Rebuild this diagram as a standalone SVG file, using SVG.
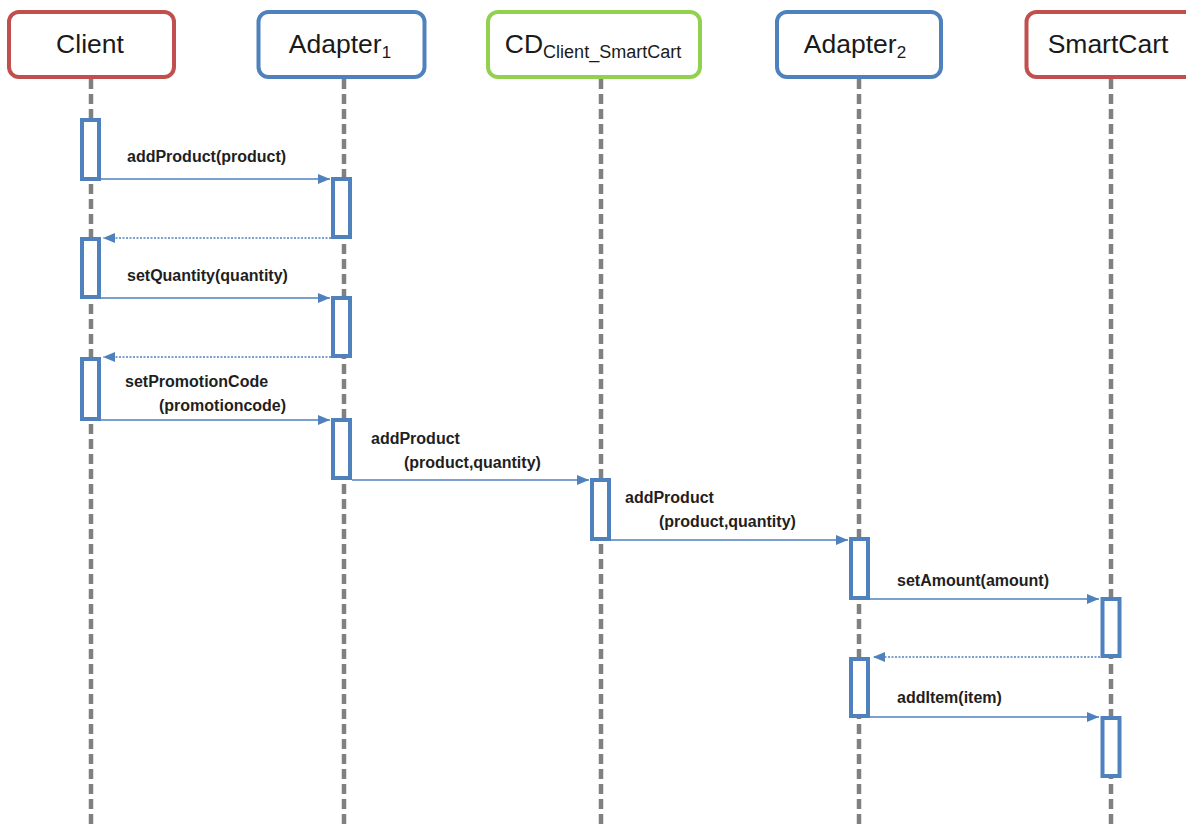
<svg xmlns="http://www.w3.org/2000/svg" width="1186" height="827" viewBox="0 0 1186 827">
<defs>
<style>
.hdr{fill:#fff;stroke-width:4}
.red{stroke:#c0504d}
.blue{stroke:#4f81bd}
.green{stroke:#92d050}
.life{stroke:#808080;stroke-width:4.5;stroke-dasharray:10 5;fill:none}
.act{fill:#fff;stroke:#4f81bd;stroke-width:4}
.title{font-family:"Liberation Sans",Arial,sans-serif;font-size:26.5px;fill:#1a1a1a;text-anchor:middle}
.lbl{font-family:"Liberation Sans",Arial,sans-serif;font-size:16px;font-weight:bold;fill:#1f1f1f}
.msg{stroke:#4f81bd;stroke-width:1.6;fill:none}
.ret{stroke:#4f81bd;stroke-width:1.6;stroke-dasharray:2 1.5;fill:none}
</style>
<marker id="ah" markerUnits="userSpaceOnUse" markerWidth="13" markerHeight="11" refX="12" refY="5" orient="auto">
<path d="M0,0 L12,5 L0,10 z" fill="#4f81bd"/>
</marker>
</defs>
<rect width="1186" height="827" fill="#fff"/>

<g id="client">
<line class="life" x1="91" y1="79" x2="91" y2="827"/>
<rect class="hdr red" x="9" y="12" width="165" height="65" rx="10"/>
<text class="title" x="90" y="53">Client</text>
<rect class="act" x="82" y="120" width="17" height="59"/>
<rect class="act" x="82" y="239" width="17" height="58"/>
<rect class="act" x="82" y="359" width="17" height="60"/>
</g>

<g id="adapter1">
<line class="life" x1="344" y1="79" x2="344" y2="827"/>
<rect class="hdr blue" x="258.5" y="12" width="166" height="65" rx="10"/>
<text class="title" x="340" y="53">Adapter<tspan font-size="17" dy="5">1</tspan></text>
<rect class="act" x="333" y="179" width="17" height="58"/>
<rect class="act" x="333" y="298" width="17" height="58"/>
<rect class="act" x="333" y="420" width="17" height="58"/>
</g>

<g id="cd">
<line class="life" x1="601" y1="79" x2="601" y2="827"/>
<rect class="hdr green" x="488" y="12" width="212" height="65" rx="10"/>
<text class="title" x="593" y="53">CD<tspan font-size="18" dy="5">Client_SmartCart</tspan></text>
<rect class="act" x="592" y="480" width="17" height="59"/>
</g>

<g id="adapter2">
<line class="life" x1="859" y1="79" x2="859" y2="827"/>
<rect class="hdr blue" x="777" y="12" width="164" height="65" rx="10"/>
<text class="title" x="855" y="53">Adapter<tspan font-size="17" dy="5">2</tspan></text>
<rect class="act" x="851" y="539" width="17" height="59"/>
<rect class="act" x="851" y="659" width="17" height="57"/>
</g>

<g id="smartcart">
<line class="life" x1="1111" y1="79" x2="1111" y2="827"/>
<rect class="hdr red" x="1026.5" y="12" width="170" height="65" rx="10"/>
<text class="title" x="1108" y="53">SmartCart</text>
<rect class="act" x="1102.5" y="599" width="17" height="57"/>
<rect class="act" x="1102.5" y="718" width="17" height="58"/>
</g>

<g id="connectors">
<line class="msg" x1="101" y1="179" x2="330" y2="179" marker-end="url(#ah)"/>
<text class="lbl" x="127" y="162">addProduct(product)</text>
<line class="ret" x1="331" y1="238" x2="103" y2="238" marker-end="url(#ah)"/>
<line class="msg" x1="101" y1="298" x2="330" y2="298" marker-end="url(#ah)"/>
<text class="lbl" x="127" y="281">setQuantity(quantity)</text>
<line class="ret" x1="331" y1="357" x2="103" y2="357" marker-end="url(#ah)"/>
<line class="msg" x1="101" y1="420" x2="330" y2="420" marker-end="url(#ah)"/>
<text class="lbl" x="125" y="387">setPromotionCode</text>
<text class="lbl" x="159" y="411">(promotioncode)</text>
<line class="msg" x1="352" y1="480" x2="589" y2="480" marker-end="url(#ah)"/>
<text class="lbl" x="371" y="444">addProduct</text>
<text class="lbl" x="404" y="468">(product,quantity)</text>
<line class="msg" x1="611" y1="540" x2="848" y2="540" marker-end="url(#ah)"/>
<text class="lbl" x="625" y="503">addProduct</text>
<text class="lbl" x="659" y="527">(product,quantity)</text>
<line class="msg" x1="870" y1="599" x2="1099" y2="599" marker-end="url(#ah)"/>
<text class="lbl" x="897" y="586">setAmount(amount)</text>
<line class="ret" x1="1100" y1="657" x2="873" y2="657" marker-end="url(#ah)"/>
<line class="msg" x1="870" y1="717" x2="1099" y2="717" marker-end="url(#ah)"/>
<text class="lbl" x="897" y="703">addItem(item)</text>
</g>
</svg>
